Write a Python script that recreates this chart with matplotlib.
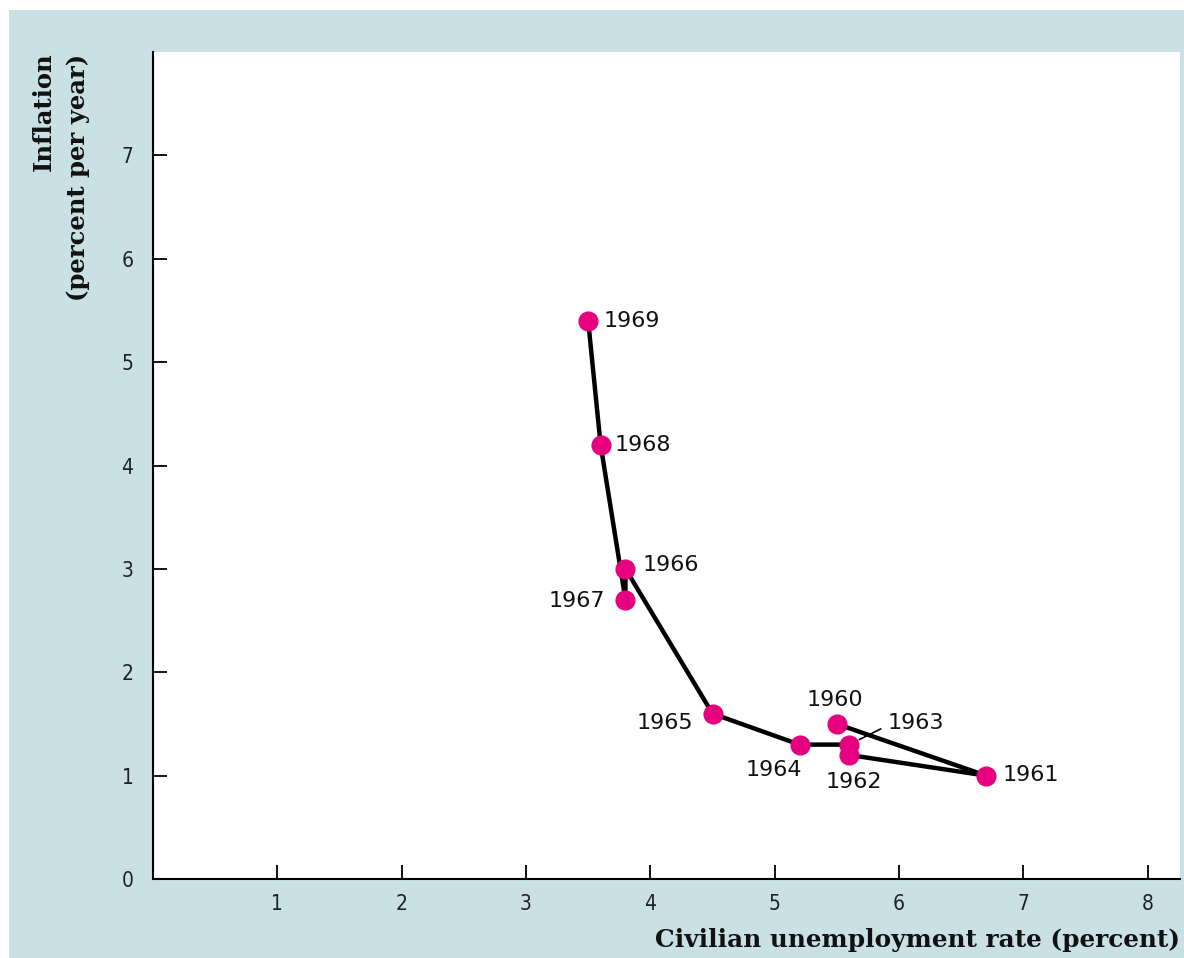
import matplotlib
matplotlib.use("Agg")
import matplotlib.pyplot as plt
from matplotlib.patches import Rectangle

years = ["1960", "1961", "1962", "1963", "1964", "1965", "1966", "1967", "1968", "1969"]
unemployment = [5.5, 6.7, 5.6, 5.6, 5.2, 4.5, 3.8, 3.8, 3.6, 3.5]
inflation = [1.5, 1.0, 1.2, 1.3, 1.3, 1.6, 3.0, 2.7, 4.2, 5.4]
x_ticks = [1, 2, 3, 4, 5, 6, 7, 8]
y_ticks = [0, 1, 2, 3, 4, 5, 6, 7]

# label offsets in pixels (dx, dy, ha)
label_offsets = {
    "1960": (-2, 24, "center"),
    "1961": (17, 1, "left"),
    "1962": (5, -27, "center"),
    "1963": (38, 22, "left"),
    "1964": (-26, -25, "center"),
    "1965": (-19, -9, "right"),
    "1966": (17, 4, "left"),
    "1967": (-20, -1, "right"),
    "1968": (14, 0, "left"),
    "1969": (15, 0, "left"),
}

BG = "#c9e0e5"
PINK = "#e6007e"

fig = plt.figure(figsize=(11.84, 9.58), dpi=100)
fig.patch.set_facecolor("white")
fig.add_artist(Rectangle((9 / 1184, 0), 1 - 9 / 1184, 1 - 10 / 958,
                         transform=fig.transFigure, facecolor=BG, edgecolor="none", zorder=0))

ax = fig.add_axes([153 / 1184, 1 - 879 / 958, (1180 - 153) / 1184, (879 - 52) / 958])
ax.set_facecolor("white")
ax.set_xlim(0, 8.26)
ax.set_ylim(0, 8.0)

ax.plot(unemployment, inflation, color="black", lw=3.2, zorder=2, solid_joinstyle="round")
ax.plot(unemployment, inflation, ls="none", marker="o", ms=13.5, mfc=PINK, mec=PINK, zorder=3)

for yr, xv, yv in zip(years, unemployment, inflation):
    dx, dy, ha = label_offsets[yr]
    if yr == "1963":
        ax.annotate(yr, (xv, yv), xytext=(dx, dy), textcoords="offset pixels",
                    ha=ha, va="center", fontsize=16, family="DejaVu Sans", color="#111111",
                    arrowprops=dict(arrowstyle="-", color="black", lw=1.2,
                                    shrinkA=3, shrinkB=8, relpos=(0, 0.35)))
    else:
        ax.annotate(yr, (xv, yv), xytext=(dx, dy), textcoords="offset pixels",
                    ha=ha, va="center", fontsize=16, family="DejaVu Sans", color="#111111")

for s in ["top", "right"]:
    ax.spines[s].set_visible(False)
for s in ["left", "bottom"]:
    ax.spines[s].set_linewidth(1.5)
    ax.spines[s].set_color("black")

ax.set_xticks(x_ticks)
ax.set_xticklabels([str(t) for t in x_ticks])
ax.set_yticks(y_ticks)
ax.set_yticklabels([str(t) for t in y_ticks])
ax.tick_params(axis="both", direction="in", length=10, width=1.3, labelsize=15, colors="black")
ax.tick_params(axis="x", pad=11)
ax.tick_params(axis="y", pad=14)
for lab in ax.get_xticklabels() + ax.get_yticklabels():
    lab.set_family("DejaVu Sans")
    lab.set_stretch("condensed")
    lab.set_color("#222222")

fig.text(1180 / 1184, 1 - 940 / 958, "Civilian unemployment rate (percent)",
         ha="right", va="center", fontsize=17.8, family="DejaVu Serif", weight="bold", color="#111111")
fig.text(44 / 1184, 1 - 52 / 958, "Inflation", rotation=90, ha="center", va="top",
         fontsize=17.5, family="DejaVu Serif", weight="bold", color="#111111")
fig.text(78 / 1184, 1 - 54 / 958, "(percent per year)", rotation=90, ha="center", va="top",
         fontsize=17.5, family="DejaVu Serif", weight="bold", color="#111111")

fig.savefig("out.png", dpi=100, facecolor=fig.get_facecolor())
